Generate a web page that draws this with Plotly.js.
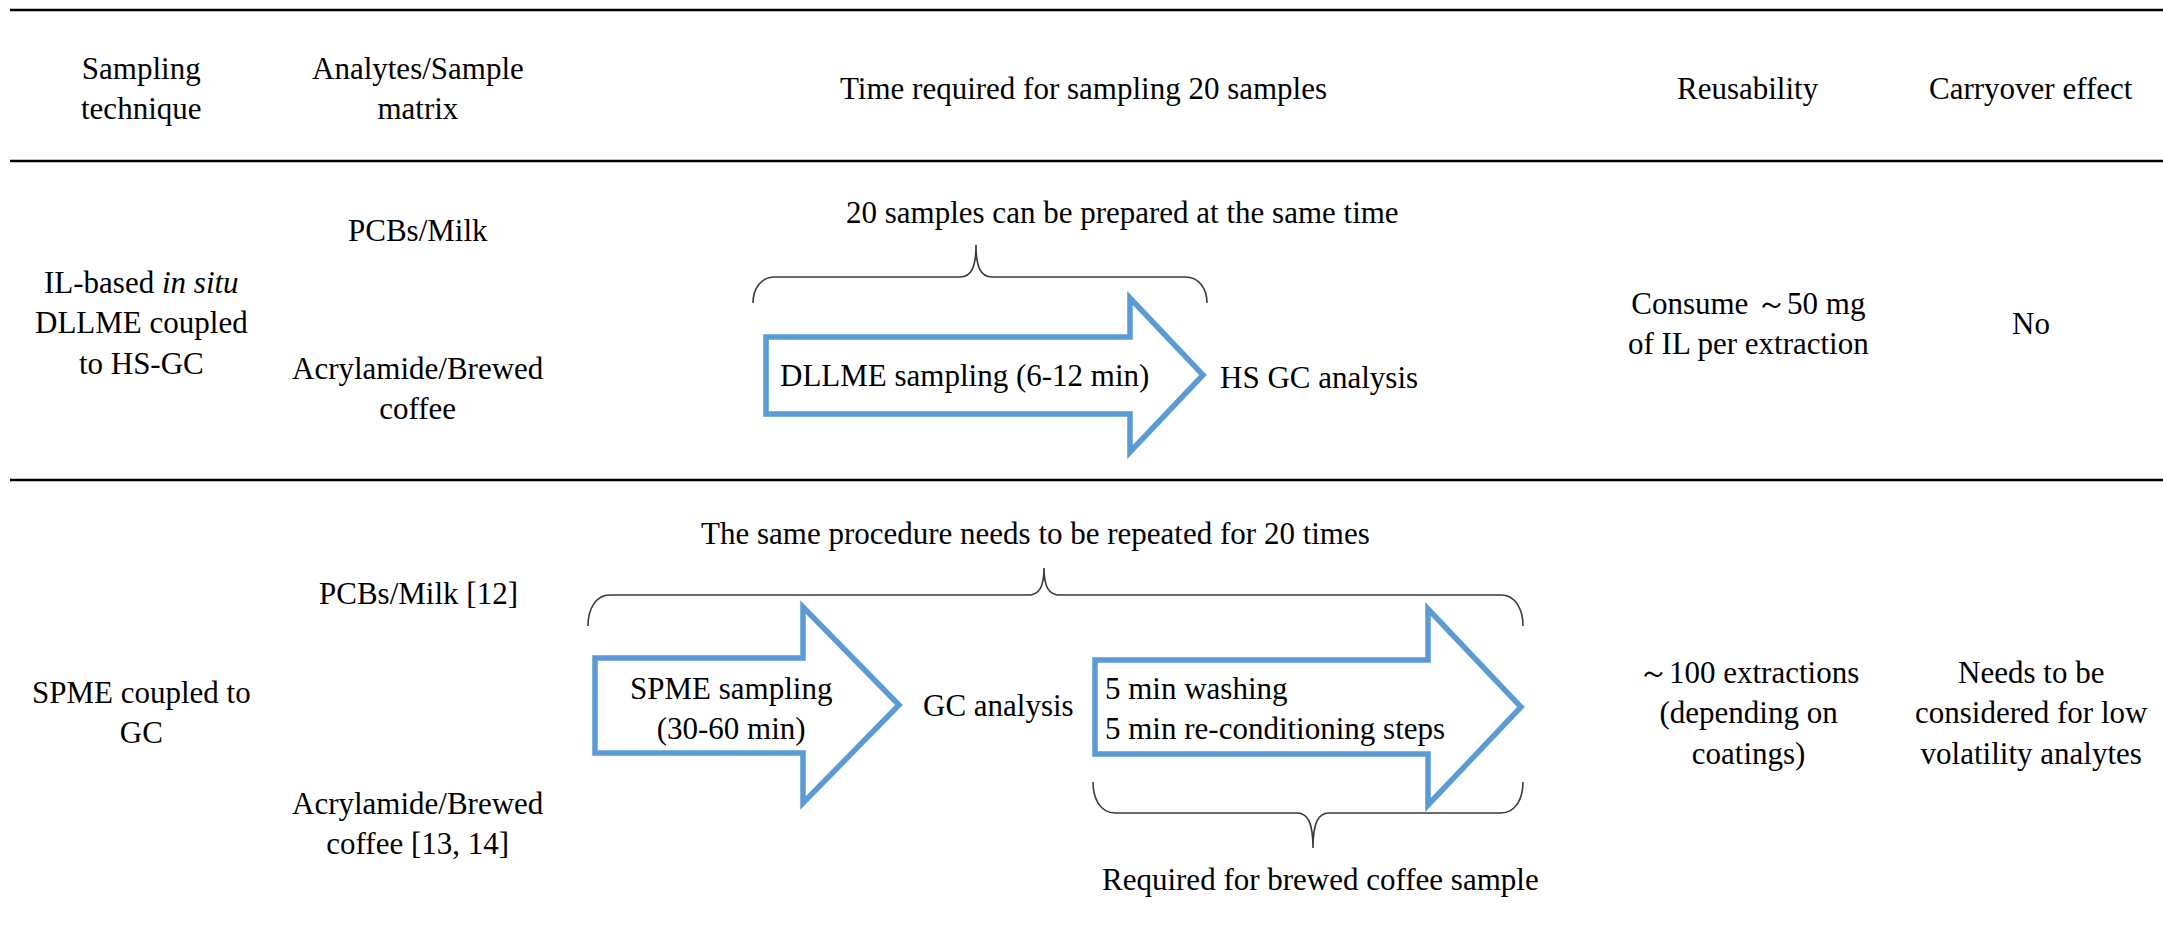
<!DOCTYPE html>
<html>
<head>
<meta charset="utf-8">
<script src="https://cdn.plot.ly/plotly-3.0.1.min.js"></script>
<style>
  html, body { margin: 0; padding: 0; background: #ffffff; }
  #chart { width: 2163px; height: 937px; }
</style>
</head>
<body>
<div id="chart"></div>
<script>
// ---------- content ----------
const headers = ['Sampling<br>technique', 'Analytes/Sample<br>matrix', 'Time required for sampling 20 samples', 'Reusability', 'Carryover effect'];
const techniques = ['IL-based <i>in situ</i><br>DLLME coupled<br>to HS-GC', 'SPME coupled to<br>GC'];
const matricesRow1 = ['PCBs/Milk', 'Acrylamide/Brewed<br>coffee'];
const matricesRow2 = ['PCBs/Milk [12]', 'Acrylamide/Brewed<br>coffee [13, 14]'];
const reusability = ['Consume \uFF5E50 mg<br>of IL per extraction', '\uFF5E100 extractions<br>(depending on<br>coatings)'];
const carryover = ['No', 'Needs to be<br>considered for low<br>volatility analytes'];
const row1Steps = ['DLLME sampling (6-12 min)', 'HS GC analysis'];
const row1Note = '20 samples can be prepared at the same time';
const row2Steps = ['SPME sampling<br>(30-60 min)', 'GC analysis', '5 min washing<br>5 min re-conditioning steps'];
const row2Notes = ['The same procedure needs to be repeated for 20 times', 'Required for brewed coffee sample'];

// ---------- styling / geometry ----------
const W = 2163, H = 937;
const FONT = {family: 'Liberation Serif', size: 31, color: '#000000'};
const BLUE = '#5B9BD5';
const BRACE = '#3a3a3a';

const colX = [141, 418, 1083, 1748, 2031];

function txt(text, x, y, opts) {
  return Object.assign({
    text: text, x: x, y: y, xref: 'x', yref: 'y',
    showarrow: false, xanchor: 'center', yanchor: 'middle', align: 'center',
    font: FONT
  }, opts || {});
}

function arrowPath(L, yT, yB, Hx, hT, hB, tip, yc) {
  return `M ${L},${yT} L ${Hx},${yT} L ${Hx},${hT} L ${tip},${yc} L ${Hx},${hB} L ${Hx},${yB} L ${L},${yB} Z`;
}

function bracePath(x1, x2, xp, yEnd, yFlat, yPeak) {
  const r = 22, rp = 16;
  const dy1 = yFlat - yEnd, dyp = yPeak - yFlat;
  return `M ${x1},${yEnd} ` +
    `C ${x1},${yEnd + dy1 * 0.55} ${x1 + r * 0.35},${yFlat} ${x1 + r},${yFlat} ` +
    `L ${xp - rp},${yFlat} ` +
    `C ${xp - rp * 0.3},${yFlat} ${xp},${yFlat + dyp * 0.3} ${xp},${yPeak} ` +
    `C ${xp},${yFlat + dyp * 0.3} ${xp + rp * 0.3},${yFlat} ${xp + rp},${yFlat} ` +
    `L ${x2 - r},${yFlat} ` +
    `C ${x2 - r * 0.35},${yFlat} ${x2},${yEnd + dy1 * 0.55} ${x2},${yEnd}`;
}

const shapes = [];
// table rules
[10, 161, 480].forEach((y) => {
  shapes.push({type: 'line', xref: 'x', yref: 'y', x0: 10, x1: W, y0: y, y1: y,
               line: {color: '#000000', width: 2.6}});
});
// arrows
const arrowStyle = {color: BLUE, width: 5.5};
shapes.push({type: 'path', xref: 'x', yref: 'y', path: arrowPath(766, 337, 414, 1130, 298, 452, 1203, 375), line: arrowStyle, fillcolor: 'rgba(0,0,0,0)'});
shapes.push({type: 'path', xref: 'x', yref: 'y', path: arrowPath(595, 658, 753, 803, 607, 803, 899, 705), line: arrowStyle, fillcolor: 'rgba(0,0,0,0)'});
shapes.push({type: 'path', xref: 'x', yref: 'y', path: arrowPath(1095, 660, 754, 1428, 609, 805, 1521, 707), line: arrowStyle, fillcolor: 'rgba(0,0,0,0)'});
// braces
const braceStyle = {color: BRACE, width: 1.6};
shapes.push({type: 'path', xref: 'x', yref: 'y', path: bracePath(753, 1207, 976, 303, 277, 245), line: braceStyle});
shapes.push({type: 'path', xref: 'x', yref: 'y', path: bracePath(588, 1523, 1044, 626, 595, 568), line: braceStyle});
shapes.push({type: 'path', xref: 'x', yref: 'y', path: bracePath(1093, 1523, 1313, 782, 813, 848), line: braceStyle});

const annotations = [];
// headers
headers.forEach((h, i) => annotations.push(txt(h, colX[i], 88)));
// row 1
annotations.push(txt(techniques[0], colX[0], 323));
annotations.push(txt(matricesRow1[0], colX[1], 230));
annotations.push(txt(matricesRow1[1], colX[1], 388));
annotations.push(txt(row1Note, 844, 212, {xanchor: 'left'}));
annotations.push(txt(row1Steps[0], 778, 375, {xanchor: 'left'}));
annotations.push(txt(row1Steps[1], 1218, 377, {xanchor: 'left'}));
annotations.push(txt(reusability[0], colX[3], 323));
annotations.push(txt(carryover[0], colX[4], 323));
// row 2
annotations.push(txt(techniques[1], colX[0], 712));
annotations.push(txt(matricesRow2[0], colX[1], 593));
annotations.push(txt(matricesRow2[1], colX[1], 823));
annotations.push(txt(row2Notes[0], 1035, 533));
annotations.push(txt(row2Steps[0], 731, 708));
annotations.push(txt(row2Steps[1], 998, 705));
annotations.push(txt(row2Steps[2], 1103, 708, {xanchor: 'left', align: 'left'}));
annotations.push(txt(row2Notes[1], 1320, 879));
annotations.push(txt(reusability[1], colX[3], 713));
annotations.push(txt(carryover[1], colX[4], 713));

const layout = {
  width: W, height: H,
  margin: {l: 0, r: 0, t: 0, b: 0, pad: 0},
  paper_bgcolor: '#ffffff', plot_bgcolor: '#ffffff',
  font: FONT,
  showlegend: false,
  xaxis: {range: [0, W], visible: false, fixedrange: true},
  yaxis: {range: [H, 0], visible: false, fixedrange: true},
  shapes: shapes,
  annotations: annotations
};

Plotly.newPlot('chart', [], layout, {staticPlot: true, displayModeBar: false});
</script>
</body>
</html>
